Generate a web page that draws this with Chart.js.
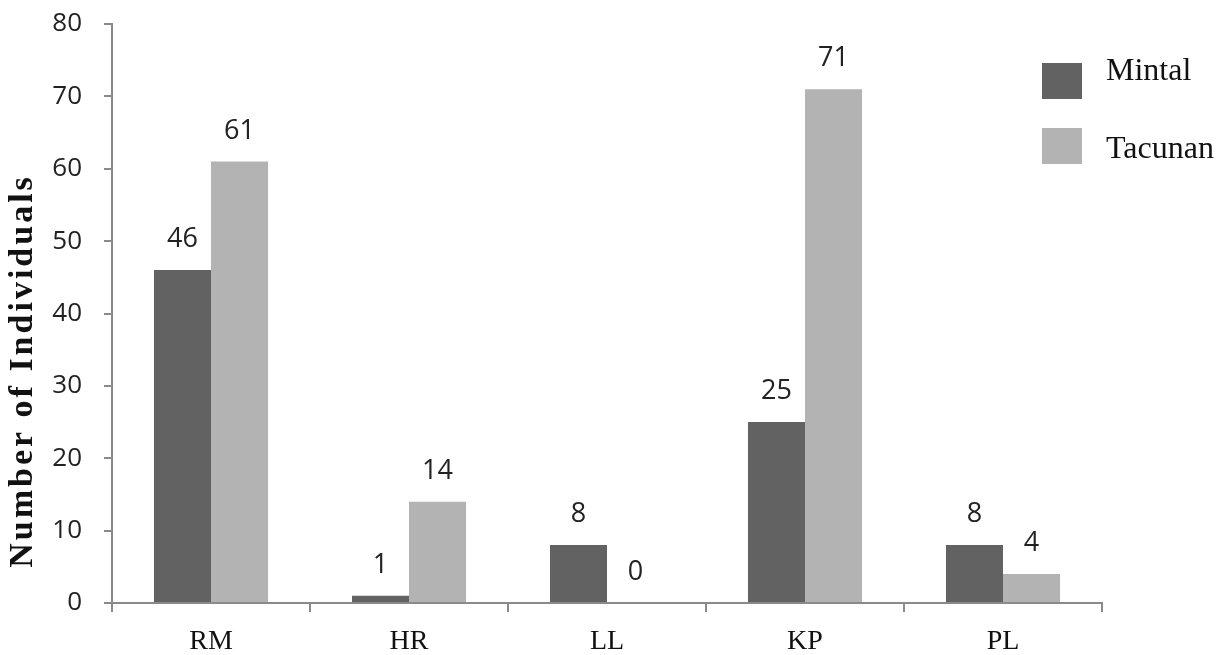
<!DOCTYPE html>
<html>
<head>
<meta charset="utf-8">
<script src="https://cdn.jsdelivr.net/npm/chart.js@4.4.1/dist/chart.umd.min.js"></script>
<style>
  html, body { margin: 0; padding: 0; background: #fff; }
  #wrap { position: relative; width: 1230px; height: 655px; }
  #c { position: absolute; left: 0; top: 0; }
  .lg-box { position: absolute; width: 40px; height: 36px; }
  .lg-txt { position: absolute; font-family: "Liberation Serif", "Times New Roman", serif; font-size: 32px; line-height: 32px; color: #111; white-space: nowrap; }
</style>
</head>
<body>
<div id="wrap">
  <canvas id="c" width="1230" height="655"></canvas>
</div>
<script>
const categories = ["RM", "HR", "LL", "KP", "PL"];
const mintalValues = [46, 1, 8, 25, 8];
const tacunanValues = [61, 14, 0, 71, 4];
const seriesNames = ["Mintal", "Tacunan"];
const seriesColors = ["#626262", "#b3b3b3"];
const yTitle = "Number of Individuals";

const axisColor = "#8a8a8a";

const valueLabels = {
  id: "valueLabels",
  afterDatasetsDraw(chart) {
    const ctx = chart.ctx;
    ctx.save();
    ctx.font = '27px "Open Sans", sans-serif';
    ctx.fillStyle = "#222";
    ctx.textAlign = "center";
    ctx.textBaseline = "alphabetic";
    chart.data.datasets.forEach((ds, i) => {
      const meta = chart.getDatasetMeta(i);
      meta.data.forEach((el, j) => {
        ctx.fillText(String(ds.data[j]), el.x, el.y - 23);
      });
    });
    ctx.restore();
  }
};

const titleSpacing = {
  id: "titleSpacing",
  beforeDraw(chart) { chart.ctx.letterSpacing = "3px"; },
  beforeDatasetsDraw(chart) { chart.ctx.letterSpacing = "0px"; },
  afterDraw(chart) { chart.ctx.letterSpacing = "0px"; }
};

const chart = new Chart(document.getElementById("c"), {
  type: "bar",
  data: {
    labels: categories,
    datasets: [
      { label: seriesNames[0], data: mintalValues, backgroundColor: seriesColors[0] },
      { label: seriesNames[1], data: tacunanValues, backgroundColor: seriesColors[1] }
    ]
  },
  options: {
    responsive: false,
    animation: false,
    devicePixelRatio: 1,
    layout: { padding: { top: 24, right: 128, left: 0, bottom: 0 } },
    datasets: { bar: { categoryPercentage: 0.576, barPercentage: 1.0, borderWidth: 0 } },
    plugins: { legend: { display: false }, tooltip: { enabled: false } },
    scales: {
      x: {
        grid: { display: true, drawOnChartArea: false, drawTicks: true, tickLength: 9, color: axisColor, lineWidth: 2, offset: true },
        border: { display: true, color: axisColor, width: 2 },
        ticks: { z: 1, padding: 13, color: "#111", font: { family: '"Liberation Serif", "Times New Roman", serif', size: 28 } },
        afterFit(scale) { scale.height = 52; }
      },
      y: {
        min: 0, max: 80,
        ticks: { z: 1, stepSize: 10, padding: 22, color: "#222", font: { family: '"Open Sans", sans-serif', size: 26 } },
        grid: { display: true, drawOnChartArea: false, drawTicks: true, tickLength: 8, color: axisColor, lineWidth: 2 },
        border: { display: true, color: axisColor, width: 2 },
        title: {
          display: true,
          text: yTitle + "          ",
          color: "#111",
          padding: { top: 3, bottom: 0 },
          font: { family: '"Liberation Serif", "Times New Roman", serif', size: 34, weight: "bold" }
        },
        afterFit(scale) {
          scale.width = 112;
          scale.paddingTop = 0;
          scale.paddingBottom = 0;
        }
      }
    }
  },
  plugins: [valueLabels, titleSpacing]
});

// HTML legend built from the chart's datasets
const wrap = document.getElementById("wrap");
const legendBoxTops = [63, 128];
const legendTextTops = [53, 131];
chart.data.datasets.forEach((ds, i) => {
  const box = document.createElement("div");
  box.className = "lg-box";
  box.style.left = "1042px";
  box.style.top = legendBoxTops[i] + "px";
  box.style.background = ds.backgroundColor;
  wrap.appendChild(box);
  const txt = document.createElement("div");
  txt.className = "lg-txt";
  txt.style.left = "1106px";
  txt.style.top = legendTextTops[i] + "px";
  txt.textContent = ds.label;
  wrap.appendChild(txt);
});
</script>
</body>
</html>
